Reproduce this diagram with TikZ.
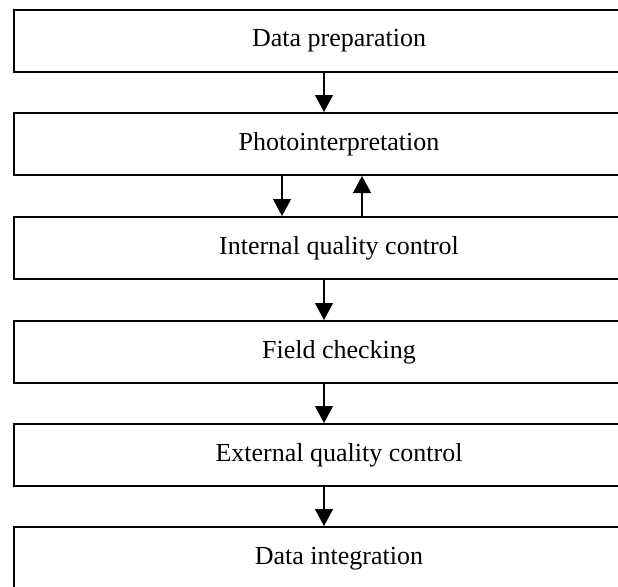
\documentclass[tikz,border=0pt]{standalone}
\usepackage{fontspec}
\setmainfont{Liberation Serif}
\usetikzlibrary{arrows.meta}
\begin{document}
\begin{tikzpicture}[x=1pt,y=-1pt,
  stagebox/.style={draw,line width=2pt,minimum width=650pt,minimum height=62pt,inner sep=0pt,
    text height=18pt,text depth=6pt,font=\fontsize{26}{30}\selectfont},
  arr/.style={line width=1.3pt,-{Triangle[length=17pt,width=18pt]}}]
\useasboundingbox[fill=white] (0,0) rectangle (618,586);
\node[stagebox] (b1) at (339,41) {Data preparation};
\node[stagebox] (b2) at (339,144) {Photointerpretation};
\node[stagebox] (b3) at (339,248) {Internal quality control};
\node[stagebox] (b4) at (339,352) {Field checking};
\node[stagebox] (b5) at (339,455) {External quality control};
\node[stagebox] (b6) at (339,558) {Data integration};
\draw[arr] ([xshift=-15pt]b1.south) -- ([xshift=-15pt]b2.north);
\draw[arr] ([xshift=-57pt]b2.south) -- ([xshift=-57pt]b3.north);
\draw[arr] ([xshift=23pt]b3.north) -- ([xshift=23pt]b2.south);
\draw[arr] ([xshift=-15pt]b3.south) -- ([xshift=-15pt]b4.north);
\draw[arr] ([xshift=-15pt]b4.south) -- ([xshift=-15pt]b5.north);
\draw[arr] ([xshift=-15pt]b5.south) -- ([xshift=-15pt]b6.north);
\end{tikzpicture}
\end{document}
